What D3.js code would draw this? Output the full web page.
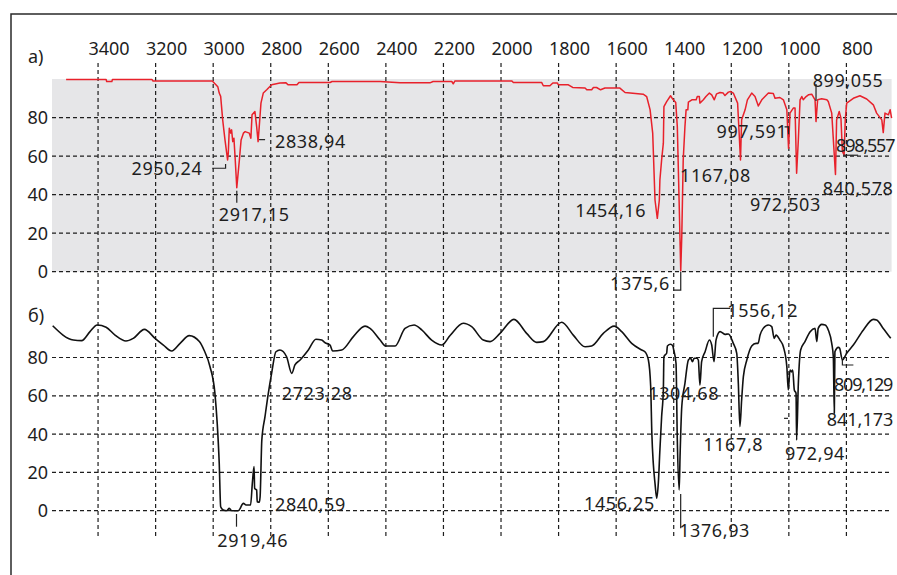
<!DOCTYPE html>
<html>
<head>
<meta charset="utf-8">
<script src="https://cdn.jsdelivr.net/npm/d3@7"></script>
<style>
  body { margin: 0; background: #fff; }
  text { font-family: "Noto Sans", "Open Sans", sans-serif; fill: #1e1e1e; }
</style>
</head>
<body>
<div id="chart"></div>
<script>
// wavenumber ticks (cm-1) and transmittance ticks (%)
let xTicks = [3400, 3200, 3000, 2800, 2600, 2400, 2200, 2000, 1800, 1600, 1400, 1200, 1000, 800]
let yTicks = [0, 20, 40, 60, 80]

// a) spectrum: [wavenumber, transmittance]
let spectrumA = [
  [3511, 99.8], [3372, 99.8], [3370, 98.7], [3352, 98.7], [3350, 99.8], [3213, 99.8], [3209, 99.0],
  [3003, 99], [2984, 96], [2979, 92.7], [2974, 91], [2967, 78.8], [2959, 68.4], [2950, 58],
  [2947.5, 61.6], [2944, 74.5], [2939, 71.9], [2936, 73.6], [2932, 67.5], [2928, 69.3], [2924, 59.7],
  [2918, 43.6], [2909, 58], [2903, 68.4], [2895, 71.9], [2889, 72.7], [2874.5, 71.9], [2869, 69.3],
  [2865, 81.4], [2855, 83.1], [2849, 75.3], [2844, 67.5], [2840, 75.3], [2834, 87.5], [2826, 92.7],
  [2814, 94.4], [2797, 97], [2768, 97.9], [2747, 98], [2740, 97], [2709, 97], [2702, 98.2],
  [2594, 98.2], [2587, 98.7], [2420, 98.7], [2351, 98], [2247, 98], [2236, 98.7], [2171, 98.7],
  [2166, 97.5], [2160, 99], [1963, 99], [1957, 98.2], [1859, 98.2], [1853, 96.5], [1830, 96.5],
  [1820, 97.9], [1804, 97.9], [1801, 97], [1766, 97], [1751, 95.6], [1708, 95.3], [1702, 94.4],
  [1685, 94.4], [1679, 95.6], [1668, 95.6], [1654, 94.4], [1639, 95.3], [1587, 95.3], [1569, 93],
  [1506, 92.1], [1494, 90.9], [1482, 84], [1473, 71.9], [1465, 37.2], [1457, 27.7], [1450, 37.2],
  [1448, 47.6], [1442, 58], [1436, 66.7], [1434, 85.7], [1424.5, 88.3], [1411, 91.3], [1403.5, 89.6],
  [1393, 87.8], [1387.5, 75.3], [1380.5, 32], [1375.6, 0.5], [1372, 18.2], [1367, 58], [1361, 75.3],
  [1357, 84], [1351, 84], [1349, 88], [1337, 89.2], [1322, 89.2], [1318, 90.9], [1311, 90.9],
  [1309, 87.5], [1297, 89.2], [1288, 90.9], [1276, 92.7], [1268, 91.8], [1259, 89.2], [1251, 92.3],
  [1239, 93], [1228, 92.7], [1222, 91.4], [1210, 93.2], [1202, 93.5], [1193, 92.7], [1178, 87.5],
  [1168, 58], [1164, 78.8], [1152, 84], [1144, 89.2], [1129, 92.7], [1117.5, 90.9], [1106, 86],
  [1094, 89.2], [1071, 92.7], [1054, 92.5], [1048, 90], [1031, 90.4], [1019, 89.2], [1007, 84],
  [1001, 64], [996, 82.3], [984.5, 84.9], [978.5, 84.9], [973, 51.1], [967, 68.4], [961, 89.2],
  [955, 90.9], [950, 89.2], [940, 90.9], [932, 91.8], [920.5, 92.1], [909, 89.2], [905.6, 77.9],
  [900, 89.2], [886, 89.7], [868, 89.2], [863, 88.3], [851, 82.3], [838, 50.5], [834, 78.8],
  [825, 83.1], [819, 79.7], [814, 62.4], [808, 60.6], [804, 78.8], [799, 87.5], [776, 90],
  [753, 91.3], [729.5, 89.6], [706.5, 86.6], [695, 82.3], [677, 78.8], [672, 72.2], [666, 82.3],
  [654, 81.4], [648, 84], [643, 79.7]
]

// б) spectrum: [wavenumber, transmittance]
let spectrumB = [
  [3557.6, 96.6], [3486, 89.1], [3457, 88.8], [3428, 93.5], [3403, 97], [3372, 95.8], [3341, 91.7],
  [3303, 88.6], [3277.5, 90], [3239, 94.7], [3202, 90], [3173, 86.5], [3144, 83.4], [3115, 87.4],
  [3083, 91.4], [3048, 88.3], [3032, 83.9], [3011, 75.2], [2994, 61.3], [2986, 45.6], [2979, 24.8],
  [2974, 2.1], [2965, 0.4], [2953, 0], [2944, 1.2], [2936, 0], [2913, 0], [2895, 3.8], [2886, 3],
  [2870, 3], [2864, 14.3], [2858, 23], [2856, 11.7], [2849, 10.8], [2847, 4.7], [2840, 4.4],
  [2837, 7.3], [2831, 36.9], [2820, 49.1], [2808.5, 61.3], [2797, 71.7], [2782, 83], [2768, 83.9],
  [2745, 80.4], [2727, 71.7], [2716, 76.1], [2698, 78.7], [2669.5, 83.9], [2643, 89.5], [2623, 89.1],
  [2611, 87.7], [2594, 86.5], [2585, 83.4], [2553.5, 83.9], [2513, 90.9], [2472.5, 96.4], [2455, 95.2],
  [2420, 89.1], [2400, 86], [2368, 86], [2333.5, 95.2], [2302, 97], [2275.5, 94.4], [2241, 89.1],
  [2206, 86.5], [2177, 91.5], [2131, 97.9], [2102, 96.1], [2061.5, 89.1], [2038, 88.3], [2003.5, 92.6],
  [1955, 99.9], [1911, 92.6], [1876, 87.9], [1853, 88.3], [1789, 98.4], [1749, 91.7], [1708, 85.6],
  [1685, 86], [1644.6, 92.6], [1607, 96.4], [1580.6, 93.5], [1546, 87.4], [1511, 83.9], [1500, 83],
  [1488, 78.7], [1480, 64.8], [1476, 40.4], [1471, 24.8], [1465, 14.3], [1459, 6.5], [1453.5, 14.3],
  [1448, 31.7], [1442, 49.1], [1436, 63], [1434, 80.4], [1430, 81.3], [1424.5, 82.2], [1422, 86],
  [1411, 86.9], [1403, 86], [1400, 83.9], [1392, 77], [1387.5, 36.9], [1381, 10.8], [1378, 28.2],
  [1372, 54.3], [1361, 66.5], [1349, 78.7], [1341, 79.6], [1335, 77.8], [1329, 79.6], [1320, 79.6],
  [1314.5, 78.7], [1309, 65.6], [1303, 77.8], [1291, 83], [1276, 89.1], [1268, 86.5], [1260, 77.8],
  [1253, 89.1], [1239, 93.5], [1222, 92.1], [1210, 92.3], [1193, 87.4], [1181, 82.2], [1175.5, 66.5],
  [1170, 43.9], [1164, 57.8], [1158, 70], [1146, 78.7], [1129, 86], [1114, 87.4], [1107, 87.4],
  [1100, 91.7], [1089, 95.2], [1071, 97], [1059.5, 96.1], [1051, 90], [1044.5, 91.7], [1031, 89.1],
  [1019, 85.6], [1007, 75.2], [1002, 63], [996, 73.5], [991, 72.5], [986.5, 73.5], [981, 63],
  [975, 61.3], [973, 36.9], [967, 66.5], [959, 83.9], [944, 88.3], [926, 93.5], [909, 95.2],
  [903, 88.3], [898, 95.2], [886, 97.3], [874, 97], [863, 94.4], [851, 87.4], [845.5, 80.4],
  [842, 50.9], [840, 83], [828, 85.3], [823.5, 84.8], [814, 78.7], [799, 82.2], [776, 86.5],
  [741, 94.4], [706.5, 99.9], [695, 99.6], [672, 95.2], [646, 90]
]

// peak labels: [text, wavenumber, transmittance]
let peaksA = [
  ['2838,94', 2844, 67.5], ['2950,24', 2950, 58], ['2917,15', 2918, 43.6], ['1454,16', 1457, 27.7],
  ['1375,6', 1375.6, 0.5], ['1167,08', 1168, 58], ['997,591', 1001, 64], ['972,503', 973, 51.1],
  ['899,055', 905.6, 77.9], ['898,557', 808, 60.6], ['840,578', 838, 50.5]
]
let peaksB = [
  ['2723,28', 2727, 71.7], ['2840,59', 2840, 4.4], ['2919,46', 2919, 0], ['1456,25', 1459, 6.5],
  ['1376,93', 1381, 10.8], ['1304,68', 1309, 65.6], ['1556,12', 1260, 77.8], ['1167,8', 1170, 43.9],
  ['972,94', 973, 36.9], ['809,129', 814, 78.7], ['841,173', 842, 50.9]
]

// label placement relative to the peak (px): text offset, spacing and leader polyline
let layoutA = [
  { dx: 17, dy: 6.7, lead: [[1, -2], [7, -2]] },
  { dx: -96, dy: 15, lead: [[-2, 4], [-2, 8.3], [-15.4, 8.3]] },
  { dx: -18, dy: 33.3, lead: [[0, 3], [0, 15]] },
  { dx: -82, dy: -1 },
  { dx: -70.7, dy: 19.3, lead: [[0, 1], [0, 19.3], [-7, 19.3]] },
  { dx: -60.5, dy: 21.7 },
  { dx: -72, dy: -10.7, lead: [[-4, -21.5], [0, -21.5], [0, -14]] },
  { dx: -46.6, dy: 37.5 },
  { dx: -3.3, dy: -34.3, lead: [[0, -37.6], [0, -20.6]] },
  { dx: -8, dy: -3.2, ls: -1.2, lead: [[-1, 0.3], [14, 0.3]] },
  { dx: -12.8, dy: 20.6 }
]
let layoutB = [
  { dx: -10, dy: 26.6 },
  { dx: 15.8, dy: 8.4 },
  { dx: -19.2, dy: 36, lead: [[0, 3.3], [0, 16]] },
  { dx: -72.7, dy: 11.7 },
  { dx: 0, dy: 47.3, lead: [[1.5, 4], [1.5, 38.3]] },
  { dx: -51.6, dy: 14.9 },
  { dx: 13.3, dy: -45, lead: [[-0.7, -25], [-0.7, -53.4], [16, -53.4]] },
  { dx: -36.6, dy: 24.4 },
  { dx: -11.6, dy: 20, lead: [[-12.6, -21.7], [-8.6, -21.7]] },
  { dx: -8.4, dy: 30.7, ls: -1.2, lead: [[0, 0], [0, 5], [11, 5]] },
  { dx: -7.6, dy: 12.8, ls: 0 }
]

let width = 897
let height = 575

let svg = d3.select('#chart').append('svg')
  .attr('width', width)
  .attr('height', height)

svg.append('rect').attr('width', width).attr('height', height).attr('fill', '#fff')

let xScale = d3.scaleLinear().domain([3560, 643]).range([52, 891.6])
let yA = d3.scaleLinear().domain([0, 100]).range([271.7, 79])
let yB = d3.scaleLinear().domain([0, 100]).range([510.7, 319.2])

let gridTop = 63
let gridBottom = 537

// grey plot area of panel a
svg.append('rect')
  .attr('x', xScale(3560))
  .attr('y', yA(100))
  .attr('width', xScale(643) - xScale(3560))
  .attr('height', yA(0) - yA(100))
  .attr('fill', '#e6e6e8')

// frame
svg.append('path')
  .attr('d', `M11,${height} V14 H${width}`)
  .attr('fill', 'none')
  .attr('stroke', '#2a2a2a')
  .attr('stroke-width', 1.5)

let grid = svg.append('g')
  .attr('stroke', '#1e1e1e')
  .attr('stroke-width', 1.2)
  .attr('stroke-dasharray', '4,3')

grid.selectAll('.vgrid')
  .data(xTicks)
  .enter().append('line')
  .attr('x1', d => xScale(d)).attr('x2', d => xScale(d))
  .attr('y1', gridTop).attr('y2', gridBottom)

;[yA, yB].forEach(y => {
  grid.selectAll(null)
    .data(yTicks)
    .enter().append('line')
    .attr('x1', xScale(3560)).attr('x2', xScale(643))
    .attr('y1', d => y(d)).attr('y2', d => y(d))
})

// top axis labels
svg.selectAll('.xlabel')
  .data(xTicks)
  .enter().append('text')
  .attr('x', d => xScale(d) + 11)
  .attr('y', 55)
  .attr('text-anchor', 'middle')
  .attr('font-size', 18)
  .text(d => d)

;[yA, yB].forEach(y => {
  svg.selectAll(null)
    .data(yTicks)
    .enter().append('text')
    .attr('x', 48)
    .attr('y', d => y(d))
    .attr('dy', '0.36em')
    .attr('text-anchor', 'end')
    .attr('font-size', 18)
    .text(d => d)
})

svg.append('text').attr('x', 28).attr('y', 63).attr('font-size', 18).text('a)')
svg.append('text').attr('x', 28).attr('y', 322).attr('font-size', 18).text('б)')

let lineA = d3.line().x(d => xScale(d[0])).y(d => yA(d[1]))
let lineB = d3.line().x(d => xScale(d[0])).y(d => yB(d[1])).curve(d3.curveMonotoneX)

svg.append('path')
  .datum(spectrumA)
  .attr('d', lineA)
  .attr('fill', 'none')
  .attr('stroke', '#e8212b')
  .attr('stroke-width', 1.5)
  .attr('stroke-linejoin', 'round')

svg.append('path')
  .datum(spectrumB)
  .attr('d', lineB)
  .attr('fill', 'none')
  .attr('stroke', '#111')
  .attr('stroke-width', 1.6)
  .attr('stroke-linejoin', 'round')

function annotate(peaks, layout, y) {
  let g = svg.append('g')
  peaks.forEach((p, i) => {
    let px = xScale(p[1])
    let py = y(p[2])
    let l = layout[i]
    if (l.lead) {
      g.append('path')
        .attr('d', d3.line()(l.lead.map(o => [px + o[0], py + o[1]])))
        .attr('fill', 'none')
        .attr('stroke', '#222')
        .attr('stroke-width', 1.2)
    }
    g.append('text')
      .attr('x', px + l.dx)
      .attr('y', py + l.dy)
      .attr('font-size', 18)
      .attr('letter-spacing', l.ls !== undefined ? l.ls : 0.6)
      .text(p[0])
  })
}

annotate(peaksA, layoutA, yA)
annotate(peaksB, layoutB, yB)
</script>
</body>
</html>
